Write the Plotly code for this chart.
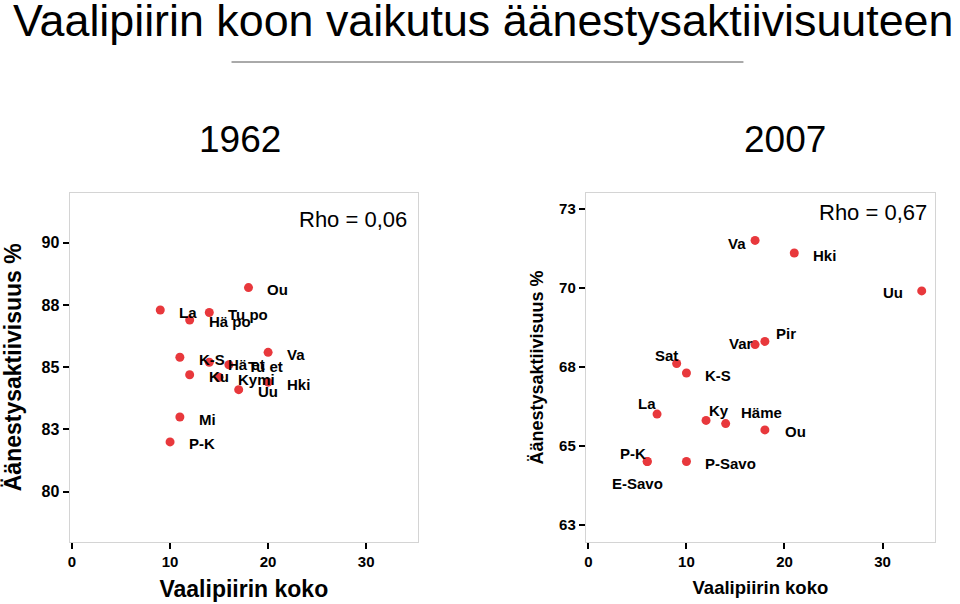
import plotly.graph_objs as go

# 1962: vaalipiirin koko (kansanedustajia) ja äänestysaktiivisuus %
piirit_1962 = ["Hki", "Uu", "Tu et", "Tu po", "Hä et", "Hä po", "Kymi",
               "Mi", "Ku", "P-K", "Va", "K-S", "Ou", "La"]
koko_1962 = [20, 17, 16, 14, 14, 12, 15, 11, 12, 10, 20, 11, 18, 9]
aktiivisuus_1962 = [84.4, 84.1, 85.1, 87.2, 85.2, 86.9, 84.6,
                    83.0, 84.7, 82.0, 85.6, 85.4, 88.2, 87.3]

# 2007
piirit_2007 = ["Hki", "Uu", "Var", "Sat", "Häme", "Pir", "Ky", "E-Savo",
               "P-Savo", "P-K", "Va", "K-S", "Ou", "La"]
koko_2007 = [21, 34, 17, 9, 14, 18, 12, 6, 10, 6, 17, 10, 18, 7]
aktiivisuus_2007 = [71.1, 69.9, 68.2, 67.6, 65.7, 68.3, 65.8, 64.5,
                    64.5, 64.5, 71.5, 67.3, 65.5, 66.0]

# tick labels as shown in the original
y_ticks_1962 = [80, 82.5, 85, 87.5, 90]
y_labels_1962 = ["80", "83", "85", "88", "90"]
y_ticks_2007 = [62.5, 65, 67.5, 70, 72.5]
y_labels_2007 = ["63", "65", "68", "70", "73"]
x_ticks = [0, 10, 20, 30]

rho_1962 = "Rho = 0,06"
rho_2007 = "Rho = 0,67"

PUNAINEN = "#e8383c"
KEHYS = "#d4d4d4"
FONTTI = "Liberation Sans, Arial, sans-serif"

W, H = 960, 604


def px(x):
    # ikkunan x-pikseli -> paper-koordinaatti
    return x / W


def py(y):
    # ikkunan y-pikseli -> paper-koordinaatti
    return 1 - y / H


# nimilappujen sijainti 2007 kuvassa: (xanchor, xshift, yshift)
lappu_2007 = {
    "Va": ("right", -8, -3), "Hki": ("left", 18, -2), "Uu": ("right", -18, -2),
    "Pir": ("left", 10, 8), "Var": ("right", -1, 1), "Sat": ("right", 2, 8),
    "K-S": ("left", 18, -2), "La": ("right", 0, 11), "Ky": ("left", 2, 10),
    "Häme": ("left", 14, 11), "Ou": ("left", 19, -2), "P-K": ("right", 0, 8),
    "P-Savo": ("left", 18, -2), "E-Savo": ("center", -10, -22),
}

fig = go.Figure()

fig.add_trace(go.Scatter(x=koko_1962, y=aktiivisuus_1962, mode="markers",
                         marker=dict(color=PUNAINEN, size=9), xaxis="x", yaxis="y",
                         hoverinfo="skip"))
fig.add_trace(go.Scatter(x=koko_2007, y=aktiivisuus_2007, mode="markers",
                         marker=dict(color=PUNAINEN, size=9), xaxis="x2", yaxis="y2",
                         hoverinfo="skip"))

annotations = []
for nimi, x, y in zip(piirit_1962, koko_1962, aktiivisuus_1962):
    annotations.append(dict(x=x, y=y, xref="x", yref="y", text=nimi, showarrow=False,
                            xanchor="left", xshift=18, yshift=-2, borderpad=0,
                            font=dict(family=FONTTI, size=15, color="black", weight="bold")))
for nimi, x, y in zip(piirit_2007, koko_2007, aktiivisuus_2007):
    anchor, dx, dy = lappu_2007[nimi]
    annotations.append(dict(x=x, y=y, xref="x2", yref="y2", text=nimi, showarrow=False,
                            xanchor=anchor, xshift=dx, yshift=dy, borderpad=0,
                            font=dict(family=FONTTI, size=15, color="black", weight="bold")))

# otsikot
annotations += [
    dict(x=px(9), y=py(20), xref="paper", yref="paper", xanchor="left", yanchor="middle",
         text="Vaalipiirin koon vaikutus äänestysaktiivisuuteen", showarrow=False,
         font=dict(family=FONTTI, size=44.8, color="black")),
    dict(x=px(238), y=py(140), xref="paper", yref="paper", xanchor="center", yanchor="middle",
         text="1962", showarrow=False, font=dict(family=FONTTI, size=37, color="black")),
    dict(x=px(785), y=py(140), xref="paper", yref="paper", xanchor="center", yanchor="middle",
         text="2007", showarrow=False, font=dict(family=FONTTI, size=37, color="black")),
    dict(x=px(408), y=py(219), xref="paper", yref="paper", xanchor="right", yanchor="middle",
         text=rho_1962, showarrow=False, font=dict(family=FONTTI, size=22, color="black")),
    dict(x=px(929), y=py(212), xref="paper", yref="paper", xanchor="right", yanchor="middle",
         text=rho_2007, showarrow=False, font=dict(family=FONTTI, size=22, color="black")),
]

akseli = dict(showgrid=False, zeroline=False, showline=True, mirror=True,
              linecolor=KEHYS, linewidth=1, ticks="outside", tickcolor="black",
              tickwidth=2, ticklen=6)

fig.update_layout(
    width=W, height=H,
    margin=dict(l=0, r=0, t=0, b=0),
    paper_bgcolor="white",
    plot_bgcolor="white",
    showlegend=False,
    font=dict(family=FONTTI, color="black"),
    xaxis=dict(**akseli, domain=[px(67.7), px(417)], range=[-0.25, 35.3],
               tickvals=x_ticks, tickfont=dict(size=15, weight="bold"),
               title=dict(text="Vaalipiirin koko", standoff=12,
                          font=dict(size=23, weight="bold"))),
    yaxis=dict(**akseli, domain=[py(541.5), py(193)], range=[78, 92],
               tickvals=y_ticks_1962, ticktext=y_labels_1962,
               tickfont=dict(size=16, weight="bold"),
               title=dict(text="Äänestysaktiivisuus %", standoff=16,
                          font=dict(size=23, weight="bold"))),
    xaxis2=dict(**akseli, domain=[px(585), px(935)], range=[-0.27, 35.36], anchor="y2",
                tickvals=x_ticks, tickfont=dict(size=15, weight="bold"),
                title=dict(text="Vaalipiirin koko", standoff=12,
                           font=dict(size=18.5, weight="bold"))),
    yaxis2=dict(**akseli, domain=[py(542), py(193)], range=[61.95, 73.0], anchor="x2",
                tickvals=y_ticks_2007, ticktext=y_labels_2007,
                tickfont=dict(size=15, weight="bold"),
                title=dict(text="Äänestysaktiivisuus %", standoff=10,
                           font=dict(size=18, weight="bold"))),
    annotations=annotations,
    shapes=[dict(type="line", xref="paper", yref="paper",
                 x0=px(230), x1=px(743), y0=py(62), y1=py(62),
                 line=dict(color="#555555", width=1))],
)

# sivun oletusmarginaali pois, jotta kuva täyttää ikkunan
fig.write_html("out.html", config={"displayModeBar": False},
               post_script="document.body.style.margin = '0';")
